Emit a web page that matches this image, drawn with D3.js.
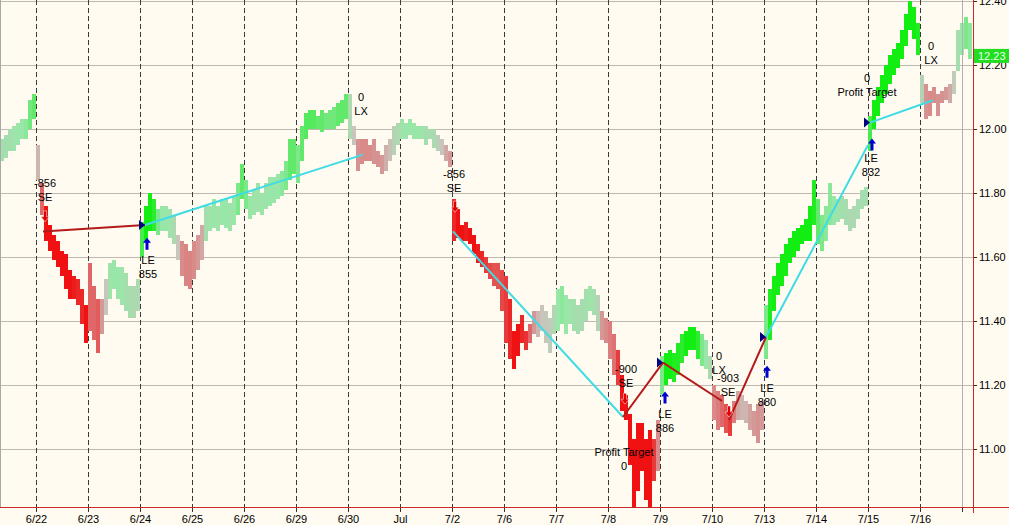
<!DOCTYPE html>
<html><head><meta charset="utf-8">
<script src="https://cdn.jsdelivr.net/npm/d3@7"></script>
<style>html,body{margin:0;padding:0;background:#FFFBF0;overflow:hidden}</style>
</head><body><svg id="c" width="1009" height="525"></svg>
<script>
// ---------- DATA ----------
const dayLabels = ["6/22","6/23","6/24","6/25","6/26","6/29","6/30","Jul","7/2","7/6","7/7","7/8","7/9","7/10","7/13","7/14","7/15","7/16"];
const preBars = 9;          // bars of the session before 6/22
const barsPerDay = 13;
const yTicks = [12.40,12.20,12.00,11.80,11.60,11.40,11.20,11.00];
const lastPrice = 12.23;

// bar highs
const hi = [
 11.97,11.98,12.00,12.01,12.02,12.03,12.03,12.09,12.11,
 11.95,11.83,11.76,11.70,11.67,11.65,11.62,11.61,11.56,11.54,11.53,11.50,11.45,
 11.58,11.51,11.47,11.47,11.53,11.58,11.59,11.57,11.57,11.55,11.51,11.51,11.53,
 11.71,11.76,11.80,11.78,11.75,11.76,11.76,11.75,11.73,11.67,11.65,11.64,11.62,
 11.65,11.67,11.70,11.76,11.76,11.78,11.76,11.78,11.78,11.77,11.79,11.83,11.89,
 11.84,11.79,11.81,11.83,11.80,11.83,11.85,11.85,11.86,11.87,11.90,11.97,11.97,
 11.95,12.01,12.05,12.06,12.06,12.04,12.06,12.05,12.06,12.07,12.08,12.09,12.11,
 12.11,12.01,11.97,11.97,11.97,11.95,11.97,11.93,11.92,11.95,11.97,12.01,12.02,
 12.03,12.02,12.03,12.02,12.01,12.01,12.01,12.00,12.00,11.98,11.97,11.95,11.93,
 11.78,11.75,11.70,11.71,11.69,11.67,11.64,11.62,11.60,11.58,11.58,11.58,11.56,
 11.54,11.47,11.37,11.39,11.42,11.37,11.39,11.43,11.43,11.45,11.43,11.41,11.45,
 11.50,11.51,11.48,11.47,11.47,11.45,11.47,11.50,11.51,11.50,11.48,11.43,11.41,
 11.40,11.36,11.31,11.23,11.17,11.11,11.03,11.08,11.08,11.03,11.06,11.03,11.09,
 11.29,11.30,11.31,11.30,11.33,11.36,11.37,11.38,11.38,11.37,11.36,11.34,11.29,
 11.20,11.18,11.17,11.14,11.12,11.15,11.18,11.17,11.15,11.14,11.12,11.14,11.15,
 11.45,11.50,11.54,11.58,11.61,11.64,11.66,11.68,11.69,11.70,11.72,11.76,11.84,
 11.78,11.73,11.76,11.83,11.79,11.78,11.79,11.78,11.75,11.76,11.78,11.81,11.82,
 12.04,12.09,12.13,12.17,12.20,12.23,12.25,12.27,12.31,12.36,12.40,12.38,12.33,
 12.17,12.14,12.12,12.13,12.11,12.12,12.13,12.14,12.18,12.31,12.33,12.35,12.33
];
// bar lows
const lo = [
 11.90,11.91,11.93,11.93,11.95,11.97,11.97,12.00,12.03,
 11.84,11.73,11.65,11.62,11.59,11.57,11.54,11.50,11.47,11.47,11.45,11.39,11.33,
 11.37,11.34,11.30,11.36,11.42,11.47,11.50,11.47,11.45,11.43,11.41,11.41,11.43,
 11.60,11.65,11.68,11.68,11.67,11.68,11.68,11.66,11.64,11.59,11.54,11.51,11.50,
 11.53,11.56,11.59,11.65,11.68,11.69,11.68,11.70,11.69,11.68,11.70,11.73,11.78,
 11.75,11.72,11.73,11.74,11.73,11.75,11.76,11.77,11.78,11.79,11.81,11.84,11.86,
 11.83,11.90,11.97,12.00,12.00,12.00,11.99,12.00,12.00,12.00,12.01,12.02,12.03,
 11.97,11.95,11.87,11.89,11.90,11.90,11.89,11.88,11.86,11.87,11.90,11.92,11.95,
 11.97,11.97,11.98,11.97,11.97,11.97,11.95,11.97,11.94,11.93,11.92,11.90,11.88,
 11.65,11.66,11.65,11.65,11.64,11.61,11.58,11.57,11.55,11.53,11.51,11.50,11.43,
 11.33,11.28,11.25,11.29,11.33,11.31,11.33,11.36,11.35,11.37,11.33,11.30,11.36,
 11.37,11.39,11.36,11.39,11.37,11.36,11.37,11.40,11.43,11.42,11.37,11.34,11.33,
 11.28,11.23,11.20,11.12,11.09,10.95,10.82,10.87,10.93,10.84,10.82,10.90,10.93,
 11.17,11.20,11.22,11.21,11.23,11.27,11.29,11.31,11.31,11.28,11.26,11.25,11.22,
 11.09,11.06,11.07,11.05,11.04,11.08,11.09,11.09,11.08,11.06,11.04,11.02,11.06,
 11.28,11.34,11.43,11.48,11.51,11.54,11.58,11.60,11.62,11.64,11.65,11.65,11.70,
 11.64,11.62,11.65,11.70,11.70,11.71,11.72,11.70,11.68,11.69,11.72,11.75,11.76,
 11.93,12.00,12.04,12.08,12.11,12.14,12.17,12.19,12.22,12.26,12.31,12.28,12.23,
 12.08,12.03,12.04,12.08,12.04,12.08,12.09,12.08,12.11,12.18,12.23,12.25,12.22
];
// trend strength painted on each bar (-1 strong down ... +1 strong up)
const strength = [
 .4,.4,.4,.45,.5,.5,.55,.65,.7,
 -.1,-.6,-1,-1,-1,-1,-1,-1,-1,-.95,-.9,-.9,-1,
 -.6,-.6,-.65,-.3,0,.45,.5,.5,.45,.4,.35,.3,.3,
 .8,1,1,.9,.6,.5,.5,.45,.3,0,-.4,-.45,-.45,
 -.4,-.3,-.2,.4,.45,.5,.45,.5,.5,.45,.5,.6,.7,
 .6,.5,.45,.45,.45,.45,.5,.5,.5,.55,.6,.7,.7,
 .6,.7,.75,.75,.75,.7,.7,.65,.65,.65,.7,.7,.7,
 .3,0,-.35,-.4,-.4,-.4,-.35,-.35,-.3,-.15,-.05,.2,.3,
 .45,.5,.5,.5,.5,.45,.4,.35,.3,.15,0,-.2,-.3,
 -.9,-1,-1,-.95,-1,-1,-.95,-.9,-.8,-.75,-.7,-.7,-.75,
 -.8,-.9,-1,-1,-.9,-.85,-.6,-.3,-.1,0,.05,.1,.25,
 .5,.55,.5,.45,.4,.35,.35,.4,.45,.4,.2,-.3,-.4,
 -.5,-.55,-.8,-1,-1,-1,-1,-1,-1,-1,-1,-.8,-.4,
 .6,1,1,.95,.95,.9,1,1,1,.9,.6,.5,.3,
 -.4,-.5,-.6,-.7,-.8,-.5,-.2,-.1,-.1,-.25,-.3,-.35,-.3,
 .6,.95,1,1,1,1,1,1,1,1,1,1,.95,
 .7,.6,.55,.55,.5,.45,.4,.35,.3,.3,.35,.35,.4,
 .8,1,1,1,1,1,1,1,1,1,1,1,.95,
 .2,-.35,-.4,-.4,-.35,-.35,-.3,-.2,.1,.4,.5,.6,.55
];

// trades: bar index (centre) and price of entry/exit
const tradeFromI = [10.25, 35.75, 112.75, 155.25, 165.25, 181.75, 191, 217];
const tradeFromP = [11.68, 11.70, 11.68, 11.10, 11.27, 11.09, 11.35, 12.02];
const tradeToI   = [35.75, 90.25, 155.25, 165.25, 180, 191, 216.5, 232.75];
const tradeToP   = [11.70, 11.92, 11.10, 11.27, 11.15, 11.35, 11.95, 12.09];
const tradeWin   = [false, true, true, false, false, false, true, true];

// long entries: entry point, and price where the blue arrow tip sits
const longEntryI = [35.75, 165.25, 191, 217];
const longEntryP = [11.70, 11.27, 11.35, 12.02];
const longArrowI = [36.25, 165.75, 191.25, 217.5];
const longArrowP = [11.66, 11.18, 11.26, 11.97];
// short entries: price where the red arrow tip sits
const shortArrowI = [10.75, 113.25, 155.75, 181.75];
const shortArrowP = [11.71, 11.74, 11.14, 11.10];

// annotation texts (bar index, price of first line)
const noteI = [10.75, 36.5, 89.75, 113, 156, 155.5, 165.75, 179.25, 181.5, 191.25, 216.25, 217.25, 232.25];
const noteP = [11.83, 11.59, 12.10, 11.86, 11.25, 10.99, 11.11, 11.29, 11.22, 11.19, 12.16, 11.91, 12.26];
const noteText = [["-856","SE"],["LE","855"],["0","LX"],["-856","SE"],["-900","SE"],["Profit Target","0"],
  ["LE","886"],["0","LX"],["-903","SE"],["LE","880"],["0","Profit Target"],["LE","832"],["0","LX"]];

// ---------- CHART ----------
const W = 1009, H = 525, plotR = 973, plotB = 507;
const nBars = hi.length;
const x = d3.scaleLinear().domain([0, nBars]).range([0, 972]);
const y = d3.scaleLinear().domain([11.0, 12.4]).range([449, 1]);
const col = d3.scaleLinear().domain([-1,-0.5,0,0.5,1])
  .range(["#F01212","#DC7C7C","#C9C5BD","#98E6A8","#12EE12"]).interpolate(d3.interpolateRgb);

const svg = d3.select("#c");
svg.append("rect").attr("width",W).attr("height",H).attr("fill","#FFFBF0");
svg.append("defs").append("clipPath").attr("id","pc").append("rect")
  .attr("x",0).attr("y",0).attr("width",plotR).attr("height",plotB);

const g = svg.append("g").attr("clip-path","url(#pc)");
const fmt = d3.format(".2f");
const dayIdx = dayLabels.map((d,k)=>preBars + k*barsPerDay);

// horizontal grid
g.selectAll(".hg").data(yTicks).join("line")
  .attr("x1",0).attr("x2",plotR).attr("y1",d=>Math.round(y(d))+0.5).attr("y2",d=>Math.round(y(d))+0.5)
  .attr("stroke","#BEBAB2").attr("stroke-width",1);
// vertical dashed day separators
g.selectAll(".vg").data(dayIdx).join("line")
  .attr("x1",d=>Math.round(x(d))+0.5).attr("x2",d=>Math.round(x(d))+0.5).attr("y1",0).attr("y2",plotB)
  .attr("stroke","#3A3A3A").attr("stroke-width",1).attr("stroke-dasharray","5,3");
// right margin marker line
svg.append("line").attr("x1",Math.round(x(nBars-2.5))+0.5).attr("x2",Math.round(x(nBars-2.5))+0.5)
  .attr("y1",0).attr("y2",plotB+5).attr("stroke","#B4B0A8");

// price bars
g.selectAll(".bar").data(hi).join("rect")
  .attr("x",(d,i)=>x(i)).attr("width",(d,i)=>x(i+1)-x(i))
  .attr("y",(d,i)=>y(hi[i])).attr("height",(d,i)=>Math.max(2,y(lo[i])-y(hi[i])))
  .attr("fill",(d,i)=>col(strength[i])).attr("shape-rendering","crispEdges");

// trade lines
const xc = i => x(i + 0.5);
g.selectAll(".tl").data(tradeFromI).join("line")
  .attr("x1",(d,k)=>xc(tradeFromI[k])).attr("y1",(d,k)=>y(tradeFromP[k]))
  .attr("x2",(d,k)=>xc(tradeToI[k])).attr("y2",(d,k)=>y(tradeToP[k]))
  .attr("stroke",(d,k)=>tradeWin[k] ? "#40DCE6" : "#B41A1A").attr("stroke-width",2);

// long entry markers: navy triangle at entry + blue up arrow below
longEntryI.forEach((li,k)=>{
  const px = xc(li), py = y(longEntryP[k]);
  g.append("path").attr("d",`M${px-6},${py-5}L${px},${py}L${px-6},${py+5}Z`).attr("fill","#000080");
  const ax = xc(longArrowI[k]), ay = y(longArrowP[k]);
  g.append("path").attr("d",`M${ax},${ay}L${ax+4},${ay+5}L${ax+1.5},${ay+5}L${ax+1.5},${ay+12}L${ax-1.5},${ay+12}L${ax-1.5},${ay+5}L${ax-4},${ay+5}Z`)
    .attr("fill","#0000D0");
});
// short entry markers: red down arrow above
shortArrowI.forEach((si,k)=>{
  const px = xc(si), py = y(shortArrowP[k]);
  g.append("path").attr("d",`M${px},${py}L${px+4},${py-5}L${px+1.5},${py-5}L${px+1.5},${py-11}L${px-1.5},${py-11}L${px-1.5},${py-5}L${px-4},${py-5}Z`)
    .attr("fill","#E00000").attr("stroke","#FFFFFF").attr("stroke-width",0.5);
});

// annotations
noteI.forEach((ni,k)=>{
  noteText[k].forEach((t,j)=>{
    g.append("text").attr("x",xc(ni)).attr("y",y(noteP[k]) + j*14).attr("dy","0.35em")
      .attr("text-anchor","middle").attr("font-family","Liberation Sans, Arial, sans-serif")
      .attr("font-size","11px").attr("fill","#000").text(t);
  });
});

// left border
svg.append("line").attr("x1",0.5).attr("x2",0.5).attr("y1",0).attr("y2",plotB).attr("stroke","#A8A8A8");

// axes
const axisCol = "#C82828";
const yAxis = svg.append("g").attr("transform",`translate(${plotR},0)`)
  .call(d3.axisRight(y).tickValues(yTicks).tickFormat(fmt).tickSize(4).tickPadding(2));
const xAxis = svg.append("g").attr("transform",`translate(0,${plotB})`)
  .call(d3.axisBottom(x).tickValues(dayIdx.concat([nBars-2.5, nBars+0.25])).tickFormat((d)=>{const k=dayIdx.indexOf(d);return k>=0?dayLabels[k]:"";}).tickSize(5).tickPadding(3));
[yAxis,xAxis].forEach(a=>{
  a.select(".domain").remove();
  a.selectAll(".tick line").attr("stroke","#4A2020");
  a.selectAll("text").attr("font-family","Liberation Sans, Arial, sans-serif").attr("font-size","11px").attr("fill","#000");
});
xAxis.selectAll(".tick line").attr("stroke","#333");
svg.append("line").attr("x1",0).attr("x2",W).attr("y1",plotB+0.5).attr("y2",plotB+0.5).attr("stroke",axisCol);
svg.append("line").attr("x1",plotR+0.5).attr("x2",plotR+0.5).attr("y1",0).attr("y2",plotB+6).attr("stroke",axisCol);

// last price tag
const ly = y(lastPrice);
svg.append("rect").attr("x",plotR+1).attr("y",ly-6.5).attr("width",W-plotR-1).attr("height",14).attr("fill","#22DD22");
svg.append("text").attr("x",plotR+5).attr("y",ly+0.5).attr("dy","0.35em")
  .attr("font-family","Liberation Sans, Arial, sans-serif").attr("font-size","11px").attr("fill","#E8FFE8").text(fmt(lastPrice));
</script></body></html>
